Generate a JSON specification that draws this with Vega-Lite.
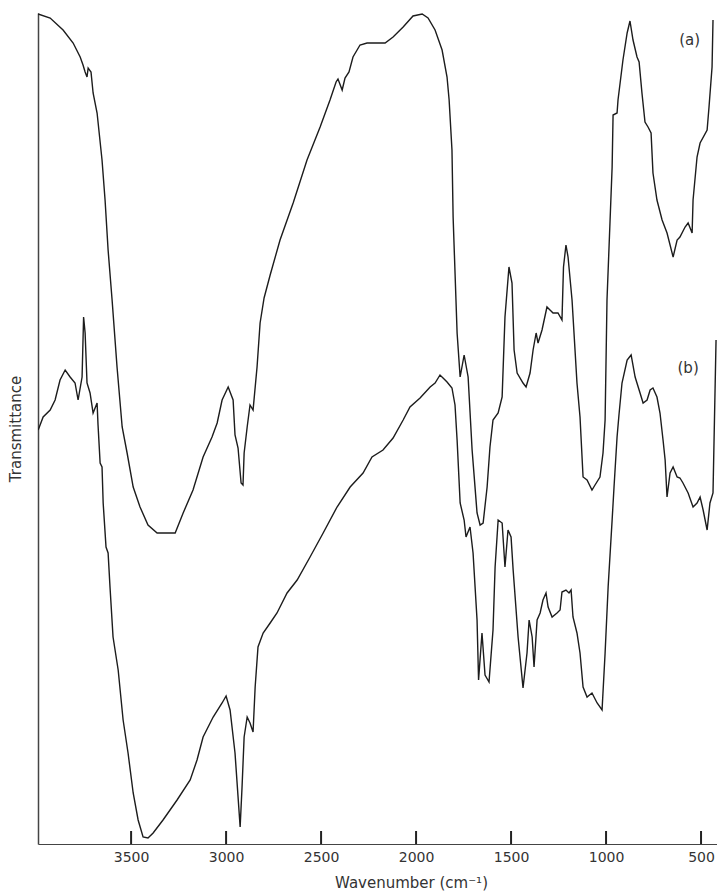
{
  "$schema": "https://vega.github.io/schema/vega-lite/v6.json",
  "width": 679,
  "height": 831,
  "autosize": "none",
  "padding": {"left": 38, "top": 13, "right": 0, "bottom": 48},
  "background": "white",
  "config": {"view": {"stroke": null}},
  "datasets": {
    "spectra": [
      {"s":"a","wn":3990,"t":830},{"s":"a","wn":3926,"t":826},{"s":"a","wn":3858,"t":814},{"s":"a","wn":3805,"t":801},{"s":"a","wn":3768,"t":787},{"s":"a","wn":3753,"t":779},{"s":"a","wn":3742,"t":772},{"s":"a","wn":3732,"t":767},{"s":"a","wn":3726,"t":776},{"s":"a","wn":3711,"t":772},{"s":"a","wn":3700,"t":751},{"s":"a","wn":3679,"t":731},{"s":"a","wn":3653,"t":684},{"s":"a","wn":3637,"t":644},{"s":"a","wn":3621,"t":594},{"s":"a","wn":3600,"t":544},{"s":"a","wn":3574,"t":477},{"s":"a","wn":3547,"t":417},{"s":"a","wn":3521,"t":391},{"s":"a","wn":3489,"t":357},{"s":"a","wn":3453,"t":337},{"s":"a","wn":3411,"t":319},{"s":"a","wn":3363,"t":311},{"s":"a","wn":3268,"t":311},{"s":"a","wn":3226,"t":331},{"s":"a","wn":3174,"t":354},{"s":"a","wn":3121,"t":387},{"s":"a","wn":3074,"t":407},{"s":"a","wn":3047,"t":421},{"s":"a","wn":3021,"t":444},{"s":"a","wn":2989,"t":457},{"s":"a","wn":2963,"t":444},{"s":"a","wn":2953,"t":409},{"s":"a","wn":2937,"t":396},{"s":"a","wn":2921,"t":361},{"s":"a","wn":2911,"t":359},{"s":"a","wn":2905,"t":391},{"s":"a","wn":2889,"t":417},{"s":"a","wn":2874,"t":439},{"s":"a","wn":2858,"t":434},{"s":"a","wn":2837,"t":477},{"s":"a","wn":2821,"t":521},{"s":"a","wn":2800,"t":546},{"s":"a","wn":2768,"t":569},{"s":"a","wn":2716,"t":604},{"s":"a","wn":2647,"t":641},{"s":"a","wn":2574,"t":684},{"s":"a","wn":2505,"t":717},{"s":"a","wn":2453,"t":744},{"s":"a","wn":2421,"t":762},{"s":"a","wn":2411,"t":765},{"s":"a","wn":2389,"t":754},{"s":"a","wn":2374,"t":766},{"s":"a","wn":2353,"t":772},{"s":"a","wn":2332,"t":787},{"s":"a","wn":2295,"t":799},{"s":"a","wn":2258,"t":801},{"s":"a","wn":2163,"t":801},{"s":"a","wn":2121,"t":807},{"s":"a","wn":2068,"t":817},{"s":"a","wn":2016,"t":828},{"s":"a","wn":1968,"t":830},{"s":"a","wn":1937,"t":826},{"s":"a","wn":1900,"t":814},{"s":"a","wn":1863,"t":794},{"s":"a","wn":1837,"t":767},{"s":"a","wn":1826,"t":744},{"s":"a","wn":1811,"t":694},{"s":"a","wn":1805,"t":627},{"s":"a","wn":1784,"t":511},{"s":"a","wn":1768,"t":467},{"s":"a","wn":1747,"t":489},{"s":"a","wn":1726,"t":467},{"s":"a","wn":1705,"t":394},{"s":"a","wn":1679,"t":331},{"s":"a","wn":1663,"t":319},{"s":"a","wn":1647,"t":321},{"s":"a","wn":1626,"t":357},{"s":"a","wn":1611,"t":397},{"s":"a","wn":1595,"t":424},{"s":"a","wn":1568,"t":431},{"s":"a","wn":1547,"t":447},{"s":"a","wn":1532,"t":527},{"s":"a","wn":1511,"t":577},{"s":"a","wn":1495,"t":561},{"s":"a","wn":1484,"t":494},{"s":"a","wn":1468,"t":471},{"s":"a","wn":1437,"t":461},{"s":"a","wn":1421,"t":457},{"s":"a","wn":1400,"t":471},{"s":"a","wn":1384,"t":494},{"s":"a","wn":1368,"t":511},{"s":"a","wn":1358,"t":501},{"s":"a","wn":1337,"t":514},{"s":"a","wn":1311,"t":537},{"s":"a","wn":1295,"t":534},{"s":"a","wn":1279,"t":531},{"s":"a","wn":1253,"t":531},{"s":"a","wn":1232,"t":524},{"s":"a","wn":1224,"t":577},{"s":"a","wn":1211,"t":599},{"s":"a","wn":1200,"t":587},{"s":"a","wn":1179,"t":544},{"s":"a","wn":1153,"t":461},{"s":"a","wn":1137,"t":427},{"s":"a","wn":1121,"t":367},{"s":"a","wn":1100,"t":364},{"s":"a","wn":1074,"t":354},{"s":"a","wn":1058,"t":359},{"s":"a","wn":1032,"t":367},{"s":"a","wn":1016,"t":391},{"s":"a","wn":1005,"t":424},{"s":"a","wn":995,"t":544},{"s":"a","wn":968,"t":677},{"s":"a","wn":963,"t":729},{"s":"a","wn":942,"t":731},{"s":"a","wn":937,"t":744},{"s":"a","wn":911,"t":784},{"s":"a","wn":889,"t":811},{"s":"a","wn":874,"t":823},{"s":"a","wn":858,"t":804},{"s":"a","wn":837,"t":787},{"s":"a","wn":826,"t":782},{"s":"a","wn":811,"t":751},{"s":"a","wn":795,"t":722},{"s":"a","wn":779,"t":717},{"s":"a","wn":763,"t":711},{"s":"a","wn":753,"t":671},{"s":"a","wn":732,"t":644},{"s":"a","wn":705,"t":624},{"s":"a","wn":679,"t":611},{"s":"a","wn":647,"t":587},{"s":"a","wn":626,"t":604},{"s":"a","wn":611,"t":607},{"s":"a","wn":584,"t":617},{"s":"a","wn":568,"t":621},{"s":"a","wn":547,"t":611},{"s":"a","wn":542,"t":644},{"s":"a","wn":521,"t":687},{"s":"a","wn":505,"t":701},{"s":"a","wn":468,"t":714},{"s":"a","wn":458,"t":737},{"s":"a","wn":442,"t":777},{"s":"a","wn":437,"t":824},
      {"s":"b","wn":3989,"t":414},{"s":"b","wn":3963,"t":427},{"s":"b","wn":3926,"t":434},{"s":"b","wn":3900,"t":444},{"s":"b","wn":3874,"t":464},{"s":"b","wn":3847,"t":474},{"s":"b","wn":3821,"t":467},{"s":"b","wn":3795,"t":461},{"s":"b","wn":3779,"t":444},{"s":"b","wn":3758,"t":467},{"s":"b","wn":3750,"t":527},{"s":"b","wn":3742,"t":511},{"s":"b","wn":3732,"t":461},{"s":"b","wn":3716,"t":451},{"s":"b","wn":3700,"t":431},{"s":"b","wn":3679,"t":441},{"s":"b","wn":3674,"t":419},{"s":"b","wn":3663,"t":381},{"s":"b","wn":3653,"t":377},{"s":"b","wn":3647,"t":341},{"s":"b","wn":3632,"t":297},{"s":"b","wn":3621,"t":291},{"s":"b","wn":3611,"t":257},{"s":"b","wn":3595,"t":207},{"s":"b","wn":3568,"t":174},{"s":"b","wn":3542,"t":124},{"s":"b","wn":3516,"t":91},{"s":"b","wn":3489,"t":51},{"s":"b","wn":3463,"t":24},{"s":"b","wn":3437,"t":7},{"s":"b","wn":3411,"t":6},{"s":"b","wn":3384,"t":11},{"s":"b","wn":3332,"t":24},{"s":"b","wn":3258,"t":44},{"s":"b","wn":3189,"t":64},{"s":"b","wn":3153,"t":84},{"s":"b","wn":3121,"t":107},{"s":"b","wn":3068,"t":127},{"s":"b","wn":3021,"t":141},{"s":"b","wn":3000,"t":148},{"s":"b","wn":2979,"t":134},{"s":"b","wn":2953,"t":91},{"s":"b","wn":2926,"t":17},{"s":"b","wn":2916,"t":57},{"s":"b","wn":2905,"t":107},{"s":"b","wn":2889,"t":127},{"s":"b","wn":2874,"t":121},{"s":"b","wn":2858,"t":112},{"s":"b","wn":2847,"t":157},{"s":"b","wn":2832,"t":197},{"s":"b","wn":2805,"t":211},{"s":"b","wn":2768,"t":221},{"s":"b","wn":2732,"t":231},{"s":"b","wn":2679,"t":251},{"s":"b","wn":2626,"t":264},{"s":"b","wn":2558,"t":287},{"s":"b","wn":2489,"t":311},{"s":"b","wn":2416,"t":337},{"s":"b","wn":2347,"t":357},{"s":"b","wn":2279,"t":371},{"s":"b","wn":2232,"t":387},{"s":"b","wn":2174,"t":394},{"s":"b","wn":2121,"t":406},{"s":"b","wn":2068,"t":424},{"s":"b","wn":2032,"t":437},{"s":"b","wn":1979,"t":446},{"s":"b","wn":1926,"t":457},{"s":"b","wn":1900,"t":461},{"s":"b","wn":1874,"t":469},{"s":"b","wn":1858,"t":466},{"s":"b","wn":1837,"t":462},{"s":"b","wn":1811,"t":456},{"s":"b","wn":1795,"t":439},{"s":"b","wn":1784,"t":404},{"s":"b","wn":1768,"t":341},{"s":"b","wn":1747,"t":324},{"s":"b","wn":1737,"t":307},{"s":"b","wn":1716,"t":317},{"s":"b","wn":1700,"t":291},{"s":"b","wn":1679,"t":224},{"s":"b","wn":1671,"t":164},{"s":"b","wn":1653,"t":211},{"s":"b","wn":1637,"t":169},{"s":"b","wn":1616,"t":162},{"s":"b","wn":1595,"t":214},{"s":"b","wn":1584,"t":277},{"s":"b","wn":1568,"t":324},{"s":"b","wn":1547,"t":321},{"s":"b","wn":1532,"t":277},{"s":"b","wn":1516,"t":314},{"s":"b","wn":1500,"t":307},{"s":"b","wn":1489,"t":274},{"s":"b","wn":1463,"t":207},{"s":"b","wn":1437,"t":156},{"s":"b","wn":1416,"t":191},{"s":"b","wn":1405,"t":224},{"s":"b","wn":1389,"t":207},{"s":"b","wn":1379,"t":177},{"s":"b","wn":1363,"t":224},{"s":"b","wn":1347,"t":231},{"s":"b","wn":1332,"t":244},{"s":"b","wn":1316,"t":251},{"s":"b","wn":1305,"t":237},{"s":"b","wn":1284,"t":227},{"s":"b","wn":1258,"t":231},{"s":"b","wn":1242,"t":234},{"s":"b","wn":1232,"t":252},{"s":"b","wn":1211,"t":254},{"s":"b","wn":1195,"t":251},{"s":"b","wn":1184,"t":254},{"s":"b","wn":1174,"t":227},{"s":"b","wn":1153,"t":211},{"s":"b","wn":1137,"t":191},{"s":"b","wn":1121,"t":157},{"s":"b","wn":1100,"t":147},{"s":"b","wn":1074,"t":151},{"s":"b","wn":1047,"t":141},{"s":"b","wn":1021,"t":134},{"s":"b","wn":1005,"t":191},{"s":"b","wn":989,"t":257},{"s":"b","wn":968,"t":324},{"s":"b","wn":958,"t":357},{"s":"b","wn":942,"t":407},{"s":"b","wn":932,"t":429},{"s":"b","wn":916,"t":461},{"s":"b","wn":889,"t":484},{"s":"b","wn":868,"t":489},{"s":"b","wn":847,"t":467},{"s":"b","wn":821,"t":451},{"s":"b","wn":805,"t":441},{"s":"b","wn":784,"t":444},{"s":"b","wn":768,"t":454},{"s":"b","wn":753,"t":456},{"s":"b","wn":732,"t":447},{"s":"b","wn":716,"t":431},{"s":"b","wn":700,"t":404},{"s":"b","wn":689,"t":384},{"s":"b","wn":679,"t":347},{"s":"b","wn":663,"t":371},{"s":"b","wn":647,"t":377},{"s":"b","wn":626,"t":367},{"s":"b","wn":611,"t":366},{"s":"b","wn":595,"t":361},{"s":"b","wn":568,"t":351},{"s":"b","wn":542,"t":337},{"s":"b","wn":521,"t":341},{"s":"b","wn":505,"t":347},{"s":"b","wn":489,"t":334},{"s":"b","wn":468,"t":314},{"s":"b","wn":453,"t":341},{"s":"b","wn":437,"t":351},{"s":"b","wn":421,"t":504}
    ],
    "tags": [
      {"label": "(a)", "wn": 560, "t": 804},
      {"label": "(b)", "wn": 568, "t": 476}
    ],
    "tickmarks": [
      {"wn": 3500, "lo": 0, "hi": 13}, {"wn": 3000, "lo": 0, "hi": 13}, {"wn": 2500, "lo": 0, "hi": 13}, {"wn": 2000, "lo": 0, "hi": 13}, {"wn": 1500, "lo": 0, "hi": 13}, {"wn": 1000, "lo": 0, "hi": 13}, {"wn": 500, "lo": 0, "hi": 13}
    ]
  },
  "layer": [
    {
      "data": {"name": "tickmarks"},
      "mark": {"type": "bar", "color": "#222", "width": 2},
      "encoding": {
        "x": {
          "field": "wn", "type": "quantitative",
          "scale": {"domain": [442.3, 3963.7], "reverse": true, "nice": false, "zero": false},
          "axis": {
            "values": [3500, 3000, 2500, 2000, 1500, 1000, 500],
            "format": "d",
            "title": "Wavenumber  (cm⁻¹)",
            "grid": false,
            "ticks": false,
            "domainColor": "#444",
            "domainWidth": 1.2,
            "labelPadding": 6,
            "labelFont": "DejaVu Sans",
            "labelFontSize": 14,
            "labelColor": "#333",
            "labelOverlap": false,
            "labelFlush": false,
            "labelBound": false,
            "titleFont": "DejaVu Sans",
            "titleFontSize": 15,
            "titleFontWeight": "normal",
            "titleColor": "#333",
            "titleX": 373,
            "titleY": 38,
            "titleBaseline": "middle"
          }
        },
        "y": {
          "field": "lo", "type": "quantitative",
          "scale": {"domain": [0, 831], "nice": false, "zero": false},
          "axis": {
            "title": "Transmittance",
            "grid": false,
            "ticks": false,
            "labels": false,
            "domainColor": "#444",
            "domainWidth": 1.5,
            "titleFont": "DejaVu Sans",
            "titleFontSize": 15,
            "titleFontWeight": "normal",
            "titleColor": "#333",
            "titlePadding": 15
          }
        },
        "y2": {"field": "hi"}
      }
    },
    {
      "data": {"name": "spectra"},
      "mark": {"type": "line", "color": "#1c1c1c", "strokeWidth": 1.4, "clip": true},
      "encoding": {
        "x": {"field": "wn", "type": "quantitative"},
        "y": {"field": "t", "type": "quantitative"},
        "detail": {"field": "s"}
      }
    },
    {
      "data": {"name": "tags"},
      "mark": {"type": "text", "font": "DejaVu Sans", "fontSize": 15, "color": "#333", "align": "center", "baseline": "middle"},
      "encoding": {
        "x": {"field": "wn", "type": "quantitative"},
        "y": {"field": "t", "type": "quantitative"},
        "text": {"field": "label"}
      }
    }
  ]
}
